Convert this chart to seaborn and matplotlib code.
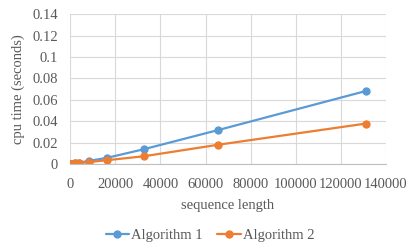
import matplotlib
matplotlib.use("Agg")
import matplotlib.pyplot as plt
import pandas as pd
import seaborn as sns

# Sequence lengths and cpu times
lengths = [256, 512, 1024, 2048, 4096, 8192, 16384, 32768, 65536, 131072]
algo1 = [0.0001, 0.0002, 0.0004, 0.0008, 0.0014, 0.0029, 0.0058, 0.0139, 0.0317, 0.0682]
algo2 = [0.0001, 0.0002, 0.0003, 0.0006, 0.0010, 0.0018, 0.0036, 0.0073, 0.0180, 0.0378]

df = pd.DataFrame({
    "sequence length": lengths * 2,
    "cpu time (seconds)": algo1 + algo2,
    "series": ["Algorithm 1"] * len(lengths) + ["Algorithm 2"] * len(lengths),
})

sns.set_style("white")
plt.rcParams["font.family"] = ["Liberation Serif", "DejaVu Serif"]

fig = plt.figure(figsize=(4.2, 2.52), dpi=100)
ax = fig.add_axes([0.167, 0.349, 0.752, 0.595])

sns.lineplot(
    data=df,
    x="sequence length",
    y="cpu time (seconds)",
    hue="series",
    palette=["#5B9BD5", "#ED7D31"],
    marker="o",
    markersize=6,
    markeredgewidth=0,
    linewidth=1.6,
    ax=ax,
)

ax.set_xlim(0, 140000)
ax.set_ylim(0, 0.14)
ax.set_xticks(range(0, 140001, 20000))
ax.set_xticklabels([str(v) for v in range(0, 140001, 20000)])
yt = [0, 0.02, 0.04, 0.06, 0.08, 0.1, 0.12, 0.14]
ax.set_yticks(yt)
ax.set_yticklabels(["0", "0.02", "0.04", "0.06", "0.08", "0.1", "0.12", "0.14"])
ax.grid(True, color="#d9d9d9", linewidth=0.8)
ax.set_axisbelow(True)
for s in ["top", "left", "right"]:
    ax.spines[s].set_visible(False)
ax.spines["bottom"].set_color("#bfbfbf")
ax.tick_params(axis="both", length=0, labelsize=10.5, colors="#595959")
ax.tick_params(axis="x", pad=10)
ax.tick_params(axis="y", pad=9)
ax.set_xlabel("sequence length", fontsize=10.5, color="#595959", labelpad=6)
ax.set_ylabel("cpu time (seconds)", fontsize=10.5, color="#595959", labelpad=5)

handles, labels = ax.get_legend_handles_labels()
ax.legend(
    handles, labels,
    loc="center", bbox_to_anchor=(0.5, 0.065), bbox_transform=fig.transFigure,
    ncol=2, frameon=False, fontsize=10.5, labelcolor="#595959",
    handlelength=1.6, handletextpad=0.15, columnspacing=1.0,
)

fig.savefig("out.png", dpi=100)
